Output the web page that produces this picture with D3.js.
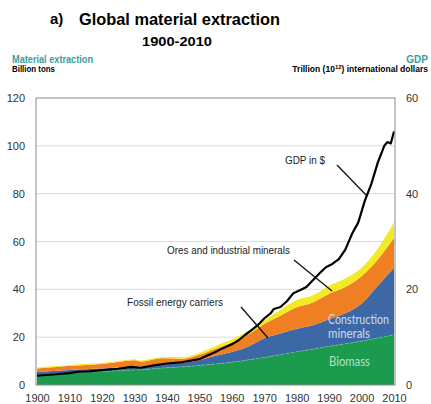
<!DOCTYPE html>
<html>
<head>
<meta charset="utf-8">
<script src="https://cdn.jsdelivr.net/npm/d3@7"></script>
<style>
  body { margin: 0; background: #fff; }
  svg { display: block; font-family: 'Liberation Sans', Arial, sans-serif; }
</style>
</head>
<body>
<svg></svg>
<script>
'use strict';

const svgWidth = 431;
const svgHeight = 404;

// material extraction, billion tons per year
const years        = [1900, 1905, 1910, 1915, 1920, 1925, 1930, 1932, 1937, 1940, 1945, 1950, 1955, 1960, 1965, 1970, 1975, 1980, 1985, 1990, 1995, 2000, 2005, 2010];
const biomass      = [4.3, 4.6, 5.0, 5.3, 5.6, 6.0, 6.3, 6.4, 6.9, 7.2, 7.6, 8.2, 8.8, 9.5, 10.5, 11.5, 12.7, 13.9, 15.0, 16.2, 17.2, 18.3, 19.6, 21.0];
const construction = [1.3, 1.3, 1.3, 1.3, 1.3, 1.3, 1.3, 1.3, 1.4, 1.6, 1.7, 2.2, 3.4, 4.3, 5.5, 8.0, 8.8, 9.6, 10.0, 11.3, 12.8, 15.7, 21.9, 28.0];
const fossil       = [1.3, 1.5, 1.7, 1.8, 1.9, 2.3, 2.7, 2.1, 2.7, 2.4, 1.7, 2.2, 3.0, 4.0, 5.0, 6.0, 7.5, 9.0, 9.5, 10.7, 11.0, 11.5, 11.0, 12.5];
const ores         = [0.4, 0.4, 0.4, 0.5, 0.4, 0.4, 0.5, 0.4, 0.5, 0.5, 0.6, 0.8, 1.1, 1.2, 1.6, 1.5, 2.5, 3.0, 3.0, 3.3, 3.5, 3.5, 4.5, 6.5];

// GDP, trillion international dollars
const gdpYears  = [1900, 1905, 1910, 1913, 1916, 1920, 1925, 1929, 1932, 1936, 1940, 1945, 1950, 1952, 1955, 1957, 1960, 1962, 1964, 1966, 1968, 1970, 1972, 1973, 1975, 1977, 1979, 1981, 1983, 1985, 1987, 1989, 1991, 1993, 1995, 1997, 1999, 2001, 2003, 2005, 2007, 2008, 2009, 2010];
const gdpValues = [1.95, 2.2, 2.5, 2.8, 2.85, 3.1, 3.4, 3.8, 3.6, 4.1, 4.5, 4.8, 5.4, 6.0, 6.9, 7.6, 8.5, 9.3, 10.4, 11.4, 12.5, 13.9, 15.0, 15.9, 16.3, 17.5, 19.2, 19.8, 20.5, 21.9, 23.3, 24.6, 25.3, 26.3, 28.3, 31.5, 34.0, 38.5, 42.0, 46.5, 50.0, 50.8, 50.5, 53.0];

const leftTicks  = [0, 20, 40, 60, 80, 100, 120];
const rightTicks = [0, 20, 40, 60];
const xTicks     = [1900, 1910, 1920, 1930, 1940, 1950, 1960, 1970, 1980, 1990, 2000, 2010];

const keys = ['biomass', 'construction', 'fossil', 'ores'];
const colors = {
  biomass: '#1c9a4e',
  construction: '#3c69a6',
  fossil: '#f07e22',
  ores: '#f3ea25'
};

const svg = d3.select('svg')
  .attr('width', svgWidth)
  .attr('height', svgHeight);

const plot = { left: 36, right: 395, top: 98, bottom: 385 };

const x = d3.scaleLinear().domain([1900, 2010]).range([plot.left + 1, plot.right - 1]);
const y = d3.scaleLinear().domain([0, 120]).range([plot.bottom, plot.top]);
const yGdp = d3.scaleLinear().domain([0, 60]).range([plot.bottom, plot.top]);

// titles
svg.append('text')
  .attr('x', 50).attr('y', 24)
  .attr('font-size', 15).attr('font-weight', 'bold')
  .text('a)');

svg.append('text')
  .attr('x', 79).attr('y', 25)
  .attr('font-size', 17).attr('font-weight', 'bold')
  .attr('textLength', 201).attr('lengthAdjust', 'spacingAndGlyphs')
  .text('Global material extraction');

svg.append('text')
  .attr('x', 142).attr('y', 46)
  .attr('font-size', 12.5).attr('font-weight', 'bold')
  .attr('textLength', 70).attr('lengthAdjust', 'spacingAndGlyphs')
  .text('1900-2010');

svg.append('text')
  .attr('x', 12).attr('y', 63)
  .attr('font-size', 10).attr('font-weight', 'bold').attr('fill', '#3a9e9c')
  .attr('textLength', 81).attr('lengthAdjust', 'spacingAndGlyphs')
  .text('Material extraction');

svg.append('text')
  .attr('x', 12).attr('y', 72)
  .attr('font-size', 8.5).attr('font-weight', 'bold')
  .attr('textLength', 43).attr('lengthAdjust', 'spacingAndGlyphs')
  .text('Billion tons');

svg.append('text')
  .attr('x', 428).attr('y', 63)
  .attr('text-anchor', 'end')
  .attr('font-size', 10).attr('font-weight', 'bold').attr('fill', '#3a9e9c')
  .text('GDP');

let unitText = svg.append('text')
  .attr('x', 428).attr('y', 72)
  .attr('text-anchor', 'end')
  .attr('font-size', 8.5).attr('font-weight', 'bold');
unitText.append('tspan').text('Trillion (10');
unitText.append('tspan').attr('font-size', 6).attr('dy', -3).text('12');
unitText.append('tspan').attr('dy', 3).text(') international dollars');

// gridlines
svg.append('g')
  .selectAll('line')
  .data(leftTicks.filter(d => d > 0 && d < 120))
  .join('line')
  .attr('x1', plot.left).attr('x2', plot.right)
  .attr('y1', d => y(d)).attr('y2', d => y(d))
  .attr('stroke', '#dcdcdc').attr('stroke-width', 1);

// stacked areas
const table = years.map((yr, i) => ({
  year: yr,
  biomass: biomass[i],
  construction: construction[i],
  fossil: fossil[i],
  ores: ores[i]
}));

const series = d3.stack().keys(keys)(table);

const area = d3.area()
  .x(d => x(d.data.year))
  .y0(d => y(d[0]))
  .y1(d => y(d[1]))
  .curve(d3.curveMonotoneX);

svg.append('g')
  .selectAll('path')
  .data(series)
  .join('path')
  .attr('fill', d => colors[d.key])
  .attr('d', area);

// dashed light edge on top of biomass
svg.append('path')
  .datum(series[0])
  .attr('fill', 'none')
  .attr('stroke', '#5fbf83')
  .attr('stroke-width', 1)
  .attr('stroke-dasharray', '3,2')
  .attr('d', d3.line().x(d => x(d.data.year)).y(d => y(d[1])).curve(d3.curveMonotoneX));

// GDP line
svg.append('path')
  .datum(gdpYears.map((yr, i) => [yr, gdpValues[i]]))
  .attr('fill', 'none')
  .attr('stroke', '#000')
  .attr('stroke-width', 2.2)
  .attr('stroke-linejoin', 'round')
  .attr('d', d3.line().x(d => x(d[0])).y(d => yGdp(d[1])));

// frame
svg.append('rect')
  .attr('x', plot.left).attr('y', plot.top)
  .attr('width', plot.right - plot.left).attr('height', plot.bottom - plot.top)
  .attr('fill', 'none').attr('stroke', '#8a8a8a').attr('stroke-width', 1);

// axes
let leftAxis = svg.append('g')
  .attr('transform', `translate(${plot.left - 8},0)`)
  .call(d3.axisLeft(y).tickValues(leftTicks).tickSize(0));
let rightAxis = svg.append('g')
  .attr('transform', `translate(${plot.right + 8},0)`)
  .call(d3.axisRight(yGdp).tickValues(rightTicks).tickSize(0));
let bottomAxis = svg.append('g')
  .attr('transform', `translate(0,${plot.bottom + 6})`)
  .call(d3.axisBottom(x).tickValues(xTicks).tickFormat(d3.format('d')).tickSize(0));

[leftAxis, rightAxis, bottomAxis].forEach(g => {
  g.select('.domain').remove();
  g.selectAll('text')
    .attr('font-family', 'Liberation Sans, Arial, sans-serif')
    .attr('font-size', 11)
    .attr('fill', '#333');
});

// annotations
const annot = svg.append('g').attr('font-size', 11).attr('fill', '#222');

annot.append('text').attr('x', 285).attr('y', 164)
  .attr('textLength', 40).attr('lengthAdjust', 'spacingAndGlyphs')
  .text('GDP in $');
annot.append('text').attr('x', 167).attr('y', 254)
  .attr('textLength', 123).attr('lengthAdjust', 'spacingAndGlyphs')
  .text('Ores and industrial minerals');
annot.append('text').attr('x', 127).attr('y', 306)
  .attr('textLength', 96).attr('lengthAdjust', 'spacingAndGlyphs')
  .text('Fossil energy carriers');

const pointers = [
  [337, 165, 367, 196],
  [294, 260, 332, 291],
  [241, 307, 268, 338]
];
svg.append('g')
  .selectAll('line')
  .data(pointers)
  .join('line')
  .attr('x1', d => d[0]).attr('y1', d => d[1])
  .attr('x2', d => d[2]).attr('y2', d => d[3])
  .attr('stroke', '#111').attr('stroke-width', 1.3);

const inner = svg.append('g')
  .attr('font-family', 'Lato, Calibri, sans-serif')
  .attr('font-size', 12.5);
inner.append('text').attr('x', 328).attr('y', 324).attr('fill', '#cddbee')
  .attr('textLength', 61).attr('lengthAdjust', 'spacingAndGlyphs')
  .text('Construction');
inner.append('text').attr('x', 328).attr('y', 338).attr('fill', '#cddbee')
  .attr('textLength', 42).attr('lengthAdjust', 'spacingAndGlyphs')
  .text('minerals');
inner.append('text').attr('x', 329).attr('y', 366).attr('fill', '#b4e0c2')
  .attr('textLength', 41).attr('lengthAdjust', 'spacingAndGlyphs')
  .text('Biomass');
</script>
</body>
</html>
